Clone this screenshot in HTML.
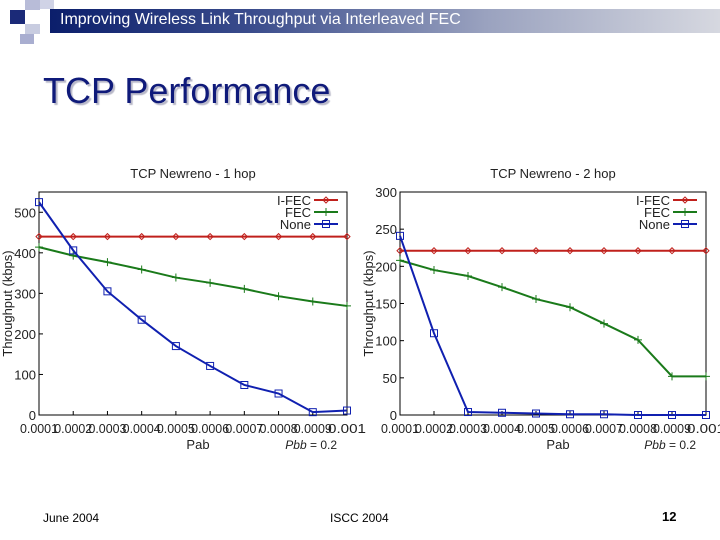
<!DOCTYPE html>
<html><head><meta charset="utf-8"><style>
body{margin:0;width:720px;height:540px;background:#fff;overflow:hidden;font-family:"Liberation Sans",sans-serif;position:relative}
.a{position:absolute}
</style></head><body>
<div class="a" style="left:50px;top:9px;width:670px;height:24px;background:linear-gradient(90deg,#0b1e6b 0%,#3a4c8c 30%,#9aa2bf 65%,#d6d8e0 100%)"></div>
<div class="a" style="left:10px;top:10px;width:15px;height:14px;background:#1b2a78"></div>
<div class="a" style="left:25px;top:0px;width:15px;height:10px;background:#b8bcd8"></div>
<div class="a" style="left:25px;top:24px;width:15px;height:10px;background:#c8cce0"></div>
<div class="a" style="left:40px;top:0px;width:14px;height:9px;background:#d0d3e6"></div>
<div class="a" style="left:20px;top:34px;width:14px;height:10px;background:#a9aed0"></div>
<div class="a" style="left:60px;top:11px;color:#fff;font-size:16px">Improving Wireless Link Throughput via Interleaved FEC</div>
<div class="a" style="left:43px;top:70px;color:#0f1a7a;font-size:36px;text-shadow:2px 2px 1px #b8b8c8">TCP Performance</div>
<svg class="a" style="left:0;top:0" width="720" height="540" id="svg"></svg>
<div class="a" style="left:43px;top:511px;font-size:12px">June 2004</div>
<div class="a" style="left:330px;top:511px;font-size:12px">ISCC 2004</div>
<div class="a" style="left:662px;top:509px;font-size:13px;font-weight:bold">12</div>
<script>
const xs=[0.0001,0.0002,0.0003,0.0004,0.0005,0.0006,0.0007,0.0008,0.0009,0.001];
const xTickLabels=["0.0001","0.0002","0.0003","0.0004","0.0005","0.0006","0.0007","0.0008","0.0009","0.001"];
const ifec1=[440,440,440,440,440,440,440,440,440,440];
const fec1=[414,393,377,359,339,326,311,293,280,269];
const none1=[525,406,305,235,170,121,74,53,7,11];
const yTicks1=[0,100,200,300,400,500];
const ifec2=[221,221,221,221,221,221,221,221,221,221];
const fec2=[208,195,187,172,156,145,123,101,52,52];
const none2=[241,110,4,3,2,1,1,0,0,0];
const yTicks2=[0,50,100,150,200,250,300];
const NS="http://www.w3.org/2000/svg";
const svg=document.getElementById('svg');
function mk(t,a,p){const e=document.createElementNS(NS,t);for(const k in a)e.setAttribute(k,a[k]);(p||svg).appendChild(e);return e;}
function chart(o){
  const g=mk('g',{});
  
  
  const X=v=>o.x0+(v-0.0001)/(0.0009)*(o.x1-o.x0);
  const Y=v=>o.y0-(v/o.ymax)*(o.y0-o.y1);
  const ax=mk('rect',{x:o.x0,y:o.y1,width:o.x1-o.x0,height:o.y0-o.y1,fill:'none',stroke:'#000','stroke-width':1},g);
  
  
  o.yt.forEach(v=>{
    mk('line',{x1:o.x0,x2:o.x0+4,y1:Y(v),y2:Y(v),stroke:'#000'},g);
    const t=mk('text',{x:o.x0-3,y:Y(v)+5,'text-anchor':'end','font-size':13,fill:'#222'},g);t.textContent=v;
    
    
  });
  xs.forEach((v,i)=>{
    mk('line',{x1:X(v),x2:X(v),y1:o.y0,y2:o.y0-4,stroke:'#000'},g);
    const t=mk('text',{x:X(v),y:o.y0+18,'text-anchor':'middle','font-size':13,fill:'#222',textLength:38,lengthAdjust:'spacingAndGlyphs'},g);t.textContent=xTickLabels[i];
    
    
  });
  let t=mk('text',{x:(o.x0+o.x1)/2,y:o.y1-14,'text-anchor':'middle','font-size':13,fill:'#222'},g);t.textContent=o.title;
  
  t=mk('text',{x:(o.x0+o.x1)/2+5,y:o.y0+34,'text-anchor':'middle','font-size':13,fill:'#222'},g);t.textContent=o.xl;
  
  t=mk('text',{x:o.x1-10,y:o.y0+34,'text-anchor':'end','font-size':12,fill:'#222'},g);t.innerHTML='<tspan font-style="italic">Pbb</tspan> = 0.2';
  
  t=mk('text',{x:o.x0-27,y:(o.y0+o.y1)/2,'text-anchor':'middle','font-size':13,fill:'#222',transform:`rotate(-90 ${o.x0-27} ${(o.y0+o.y1)/2})`},g);t.textContent='Throughput (kbps)';
  
  const series=[[o.ifec,'#c0201c','I-FEC','d'],[o.fec,'#1a7a1a','FEC','+'],[o.none,'#1020b0','None','s']];
  series.forEach(([d,c,n,m],k)=>{
    const pl=mk('polyline',{points:d.map((v,i)=>X(xs[i])+','+Y(v)).join(' '),fill:'none',stroke:c,'stroke-width':2},g);
    
    
    const mark=(x,y)=>{
      if(m==='d')mk('path',{d:`M${x-3},${y}L${x},${y-3}L${x+3},${y}L${x},${y+3}Z`,fill:'none',stroke:c},g);
      else if(m==='+')mk('path',{d:`M${x-4},${y}H${x+4}M${x},${y-4}V${y+4}`,stroke:c,'stroke-width':1},g);
      else mk('rect',{x:x-3.5,y:y-3.5,width:7,height:7,fill:'none',stroke:c},g);
    };
    d.forEach((v,i)=>mark(X(xs[i]),Y(v)));
    const ly=o.y1+8+k*12;
    const lt=mk('text',{x:o.x1-36,y:ly+5,'text-anchor':'end','font-size':13,fill:'#222'},g);lt.textContent=n;
    
    mk('line',{x1:o.x1-33,x2:o.x1-9,y1:ly,y2:ly,stroke:c,'stroke-width':2},g);
    mark(o.x1-21,ly);
  });
}
chart({name:'chart-1hop',x0:39,x1:347,y0:415,y1:192,ymax:550,yt:yTicks1,ifec:ifec1,fec:fec1,none:none1,title:'TCP Newreno - 1 hop',xl:'Pab'});
chart({name:'chart-2hop',x0:400,x1:706,y0:415,y1:192,ymax:300,yt:yTicks2,ifec:ifec2,fec:fec2,none:none2,title:'TCP Newreno - 2 hop',xl:'Pab'});
</script>
</body></html>
